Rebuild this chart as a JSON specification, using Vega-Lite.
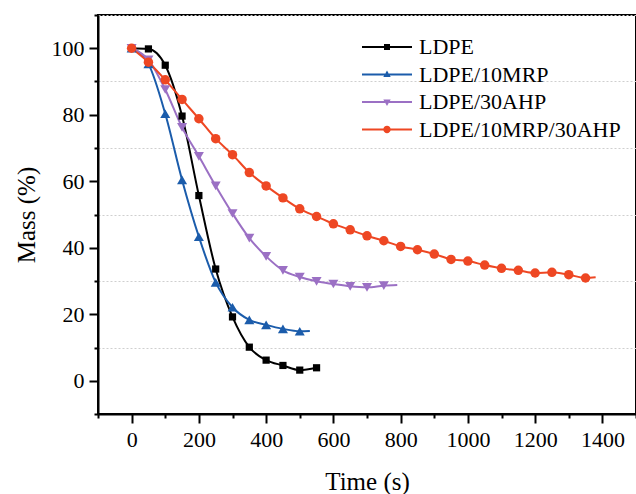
{
  "$schema": "https://vega.github.io/schema/vega-lite/v6.json",
  "width": 538,
  "height": 399,
  "autosize": "none",
  "padding": {"left": 98, "top": 15, "right": 0, "bottom": 80},
  "background": "white",
  "config": {
    "font": "Liberation Serif",
    "view": {"stroke": "black", "strokeWidth": 2}
  },
  "data": {
    "values": [
      {"s": "LDPE", "t": 0, "m": 100},
      {"s": "LDPE", "t": 50, "m": 99.8},
      {"s": "LDPE", "t": 100, "m": 94.9},
      {"s": "LDPE", "t": 150, "m": 79.6},
      {"s": "LDPE", "t": 200, "m": 55.7},
      {"s": "LDPE", "t": 250, "m": 33.6},
      {"s": "LDPE", "t": 300, "m": 19.2},
      {"s": "LDPE", "t": 350, "m": 10.1},
      {"s": "LDPE", "t": 400, "m": 6.2},
      {"s": "LDPE", "t": 450, "m": 4.6},
      {"s": "LDPE", "t": 500, "m": 3.2},
      {"s": "LDPE", "t": 550, "m": 3.9},
      {"s": "LDPE/10MRP", "t": 0, "m": 100},
      {"s": "LDPE/10MRP", "t": 50, "m": 95.3},
      {"s": "LDPE/10MRP", "t": 100, "m": 80.3},
      {"s": "LDPE/10MRP", "t": 150, "m": 60.4},
      {"s": "LDPE/10MRP", "t": 200, "m": 43.3},
      {"s": "LDPE/10MRP", "t": 250, "m": 29.6},
      {"s": "LDPE/10MRP", "t": 300, "m": 22.1},
      {"s": "LDPE/10MRP", "t": 350, "m": 18.3},
      {"s": "LDPE/10MRP", "t": 400, "m": 16.8},
      {"s": "LDPE/10MRP", "t": 450, "m": 15.6},
      {"s": "LDPE/10MRP", "t": 500, "m": 14.9},
      {"s": "LDPE/10MRP", "t": 530, "m": 15.0},
      {"s": "LDPE/30AHP", "t": 0, "m": 100},
      {"s": "LDPE/30AHP", "t": 50, "m": 96.5},
      {"s": "LDPE/30AHP", "t": 100, "m": 87.6},
      {"s": "LDPE/30AHP", "t": 150, "m": 76.2},
      {"s": "LDPE/30AHP", "t": 200, "m": 67.5},
      {"s": "LDPE/30AHP", "t": 250, "m": 58.6},
      {"s": "LDPE/30AHP", "t": 300, "m": 50.3},
      {"s": "LDPE/30AHP", "t": 350, "m": 42.9},
      {"s": "LDPE/30AHP", "t": 400, "m": 37.4},
      {"s": "LDPE/30AHP", "t": 450, "m": 33.2},
      {"s": "LDPE/30AHP", "t": 500, "m": 31.2},
      {"s": "LDPE/30AHP", "t": 550, "m": 29.9},
      {"s": "LDPE/30AHP", "t": 600, "m": 29.1},
      {"s": "LDPE/30AHP", "t": 650, "m": 28.4},
      {"s": "LDPE/30AHP", "t": 700, "m": 28.1},
      {"s": "LDPE/30AHP", "t": 750, "m": 28.6},
      {"s": "LDPE/30AHP", "t": 790, "m": 28.8},
      {"s": "LDPE/10MRP/30AHP", "t": 0, "m": 100},
      {"s": "LDPE/10MRP/30AHP", "t": 50, "m": 95.8},
      {"s": "LDPE/10MRP/30AHP", "t": 100, "m": 90.5},
      {"s": "LDPE/10MRP/30AHP", "t": 150, "m": 84.6},
      {"s": "LDPE/10MRP/30AHP", "t": 200, "m": 78.8},
      {"s": "LDPE/10MRP/30AHP", "t": 250, "m": 72.8},
      {"s": "LDPE/10MRP/30AHP", "t": 300, "m": 68.0},
      {"s": "LDPE/10MRP/30AHP", "t": 350, "m": 62.6},
      {"s": "LDPE/10MRP/30AHP", "t": 400, "m": 58.6},
      {"s": "LDPE/10MRP/30AHP", "t": 450, "m": 55.0},
      {"s": "LDPE/10MRP/30AHP", "t": 500, "m": 51.7},
      {"s": "LDPE/10MRP/30AHP", "t": 550, "m": 49.4},
      {"s": "LDPE/10MRP/30AHP", "t": 600, "m": 47.2},
      {"s": "LDPE/10MRP/30AHP", "t": 650, "m": 45.4},
      {"s": "LDPE/10MRP/30AHP", "t": 700, "m": 43.6},
      {"s": "LDPE/10MRP/30AHP", "t": 750, "m": 42.1},
      {"s": "LDPE/10MRP/30AHP", "t": 800, "m": 40.4},
      {"s": "LDPE/10MRP/30AHP", "t": 850, "m": 39.4},
      {"s": "LDPE/10MRP/30AHP", "t": 900, "m": 38.1},
      {"s": "LDPE/10MRP/30AHP", "t": 950, "m": 36.5},
      {"s": "LDPE/10MRP/30AHP", "t": 1000, "m": 36.0},
      {"s": "LDPE/10MRP/30AHP", "t": 1050, "m": 34.8},
      {"s": "LDPE/10MRP/30AHP", "t": 1100, "m": 33.8},
      {"s": "LDPE/10MRP/30AHP", "t": 1150, "m": 33.2},
      {"s": "LDPE/10MRP/30AHP", "t": 1200, "m": 32.4},
      {"s": "LDPE/10MRP/30AHP", "t": 1250, "m": 32.6},
      {"s": "LDPE/10MRP/30AHP", "t": 1300, "m": 31.9},
      {"s": "LDPE/10MRP/30AHP", "t": 1350, "m": 30.9},
      {"s": "LDPE/10MRP/30AHP", "t": 1380, "m": 31.1}
    ]
  },
  "resolve": {"axis": {"x": "independent", "y": "independent"}},
  "layer": [
    {
      "mark": {"type": "line", "strokeWidth": 2, "interpolate": "monotone"},
      "encoding": {
        "x": {
          "field": "t", "type": "quantitative",
          "scale": {"domain": [-100, 1500], "nice": false, "zero": false},
          "axis": {
            "orient": "bottom", "values": [0, 200, 400, 600, 800, 1000, 1200, 1400], "format": "d",
            "grid": false, "tickSize": 9, "tickWidth": 2, "tickColor": "black",
            "domainColor": "black", "domainWidth": 2,
            "labelFontSize": 22, "labelColor": "black", "labelPadding": 6, "labelFont": "Liberation Serif",
            "title": "Time (s)", "titleFontSize": 25, "titleFontWeight": "normal", "titleColor": "black",
            "titleFont": "Liberation Serif", "titlePadding": 19
          }
        },
        "y": {
          "field": "m", "type": "quantitative",
          "scale": {"domain": [-10, 110], "nice": false, "zero": false},
          "axis": {
            "orient": "left", "values": [0, 20, 40, 60, 80, 100],
            "grid": false, "tickSize": 9, "tickWidth": 2, "tickColor": "black",
            "domainColor": "black", "domainWidth": 2,
            "labelFontSize": 22, "labelColor": "black", "labelPadding": 5, "labelFont": "Liberation Serif",
            "title": "Mass (%)", "titleFontSize": 25, "titleFontWeight": "normal", "titleColor": "black",
            "titleFont": "Liberation Serif", "titlePadding": 12
          }
        },
        "color": {
          "field": "s", "type": "nominal",
          "scale": {
            "domain": ["LDPE", "LDPE/10MRP", "LDPE/30AHP", "LDPE/10MRP/30AHP"],
            "range": ["#000000", "#1b5cab", "#9b70c4", "#ee4723"]
          },
          "legend": {
            "orient": "none", "legendX": 278, "legendY": 21, "title": null,
            "labelFontSize": 22, "labelFont": "Liberation Serif", "labelColor": "black", "labelLimit": 0,
            "symbolSize": 400, "labelOffset": 21, "rowPadding": 5.5,
            "encode": {
              "symbols": {
                "update": {
                  "shape": {"signal": "datum.value === 'LDPE' ? 'M-2.5,-0.1H-0.3V-0.3H0.3V-0.1H2.5V0.1H0.3V0.3H-0.3V0.1H-2.5Z' : datum.value === 'LDPE/10MRP' ? 'M-2.5,-0.1H-0.2V0.1H-2.5ZM0.2,-0.1H2.5V0.1H0.2ZM0,-0.4L0.37,0.25H-0.37Z' : datum.value === 'LDPE/30AHP' ? 'M-2.5,-0.1H-0.2V0.1H-2.5ZM0.2,-0.1H2.5V0.1H0.2ZM-0.37,-0.25H0.37L0,0.4Z' : 'M-2.5,-0.1H-0.25V0.1H-2.5ZM0.25,-0.1H2.5V0.1H0.25ZM-0.37,0A0.37,0.37 0 1,1 0.37,0A0.37,0.37 0 1,1 -0.37,0Z'"},
                  "fill": {"scale": "color", "field": "value"},
                  "stroke": {"value": "transparent"},
                  "strokeWidth": {"value": 0},
                  "opacity": {"value": 1}
                }
              }
            }
          }
        }
      }
    },
    {
      "transform": [{"filter": "datum.t % 50 === 0 && datum.s === 'LDPE'"}],
      "mark": {"type": "point", "filled": true, "opacity": 1, "shape": "square", "size": 52},
      "encoding": {
        "x": {
          "field": "t", "type": "quantitative",
          "axis": {
            "orient": "bottom", "values": [-100, 100, 300, 500, 700, 900, 1100, 1300, 1500],
            "grid": false, "tickSize": 4, "tickWidth": 2, "tickColor": "black",
            "domain": false, "labels": false, "title": null
          }
        },
        "y": {
          "field": "m", "type": "quantitative",
          "axis": {
            "orient": "left", "values": [-10, 10, 30, 50, 70, 90, 110],
            "grid": true, "gridDash": [2, 2], "gridColor": "#cfcfcf", "gridWidth": 1,
            "tickSize": 4, "tickWidth": 2, "tickColor": "black",
            "domain": false, "labels": false, "title": null
          }
        },
        "color": {"field": "s", "type": "nominal"}
      }
    },
    {
      "transform": [{"filter": "datum.t % 50 === 0 && datum.s === 'LDPE/10MRP'"}],
      "mark": {"type": "point", "filled": true, "opacity": 1, "shape": "triangle-up", "size": 100},
      "encoding": {
        "x": {"field": "t", "type": "quantitative", "axis": null},
        "y": {"field": "m", "type": "quantitative", "axis": null},
        "color": {"field": "s", "type": "nominal"}
      }
    },
    {
      "transform": [{"filter": "datum.t % 50 === 0 && datum.s === 'LDPE/30AHP'"}],
      "mark": {"type": "point", "filled": true, "opacity": 1, "shape": "triangle-down", "size": 100},
      "encoding": {
        "x": {"field": "t", "type": "quantitative", "axis": null},
        "y": {"field": "m", "type": "quantitative", "axis": null},
        "color": {"field": "s", "type": "nominal"}
      }
    },
    {
      "transform": [{"filter": "datum.t % 50 === 0 && datum.s === 'LDPE/10MRP/30AHP'"}],
      "mark": {"type": "point", "filled": true, "opacity": 1, "shape": "circle", "size": 90},
      "encoding": {
        "x": {"field": "t", "type": "quantitative", "axis": null},
        "y": {"field": "m", "type": "quantitative", "axis": null},
        "color": {"field": "s", "type": "nominal"}
      }
    }
  ]
}
